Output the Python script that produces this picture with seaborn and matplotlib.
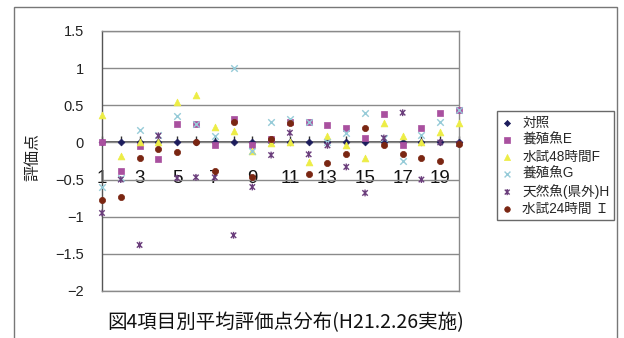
import matplotlib
matplotlib.use("Agg")
import matplotlib.pyplot as plt
from matplotlib.path import Path
from matplotlib.patches import Rectangle
import seaborn as sns
import pandas as pd

# ---- data -------------------------------------------------------------
categories = list(range(1, 21))
x_tick_labels = ["1", "3", "5", "7", "9", "11", "13", "15", "17", "19"]
y_ticks = [-2, -1.5, -1, -0.5, 0, 0.5, 1, 1.5]
y_tick_labels = ["\u22122", "\u22121.5", "\u22121", "\u22120.5", "0", "0.5", "1", "1.5"]

control = [0.0] * 20
farmed_e = [0.0, -0.39, -0.05, -0.22, 0.25, 0.25, -0.04, 0.32, -0.04, 0.05,
            0.28, 0.27, 0.23, 0.19, 0.06, 0.38, -0.03, 0.20, 0.39, 0.43]
test48_f = [0.37, -0.18, 0.00, 0.01, 0.55, 0.64, 0.21, 0.16, -0.11, -0.01,
            0.00, -0.26, 0.09, -0.03, -0.21, 0.26, 0.09, 0.00, 0.14, 0.26]
farmed_g = [-0.60, -0.48, 0.17, 0.10, 0.35, 0.25, 0.09, 1.00, -0.12, 0.28,
            0.32, 0.27, 0.01, 0.13, 0.40, 0.06, -0.25, 0.10, 0.28, 0.43]
wild_h = [-0.95, -0.50, -1.38, 0.09, -0.48, -0.47, -0.47, -1.25, -0.60, -0.17,
          0.13, -0.16, -0.04, -0.33, -0.68, 0.06, 0.40, -0.50, 0.00, -0.02]
test24_i = [-0.77, -0.74, -0.21, -0.09, -0.13, 0.00, -0.38, 0.27, -0.46, 0.05,
            0.26, -0.42, -0.28, -0.16, 0.19, -0.03, -0.15, -0.21, -0.25, -0.02]

series_names = ["対照", "養殖魚E", "水試48時間F", "養殖魚G", "天然魚(県外)H", "水試24時間 Ｉ"]
series_values = [control, farmed_e, test48_f, farmed_g, wild_h, test24_i]

# ---- styling ----------------------------------------------------------
sns.set_theme(style="white")
plt.rcParams["font.family"] = ["Liberation Sans", "Noto Sans CJK JP", "DejaVu Sans"]
plt.rcParams["axes.unicode_minus"] = True

# asterisk marker: an x with a vertical bar through it
asterisk = Path(
    [(-1, -1), (1, 1), (-1, 1), (1, -1), (0, -1.25), (0, 1.25)],
    [Path.MOVETO, Path.LINETO, Path.MOVETO, Path.LINETO, Path.MOVETO, Path.LINETO],
)

styles = [
    dict(marker="D", color="#1c1c5c", s=12, kind="filled"),
    dict(marker="s", color="#a9509f", s=18, kind="filled"),
    dict(marker="^", color="#eded45", s=24, kind="filled"),
    dict(marker="x", color="#96cbd8", s=22, kind="line"),
    dict(marker=asterisk, color="#6b3e7c", s=24, kind="path"),
    dict(marker="o", color="#7a2612", s=20, kind="filled"),
]

fig = plt.figure(figsize=(6.24, 3.38), dpi=100)
ax = fig.add_axes([102 / 624, 1 - 291 / 338, (459 - 102) / 624, (291 - 31) / 338])

for name, vals, st in zip(series_names, series_values, styles):
    df = pd.DataFrame({"category": categories, "score": vals})
    common = dict(data=df, x="category", y="score", ax=ax, marker=st["marker"],
                  s=st["s"], label=name, zorder=3, clip_on=False)
    if st["kind"] == "filled":
        sns.scatterplot(color=st["color"], edgecolor=st["color"], linewidth=0.5, **common)
    elif st["kind"] == "line":
        sns.scatterplot(color=st["color"], linewidth=1.0, **common)
    else:
        sns.scatterplot(facecolors="none", edgecolor=st["color"], linewidth=1.0, **common)

ax.set_xlim(1, 20)
ax.set_ylim(-2, 1.5)
ax.set_yticks(y_ticks, labels=y_tick_labels)
ax.tick_params(axis="y", labelsize=10.5, colors="#222222", length=0, pad=13)
ax.set_xticks([])
ax.set_xlabel("")
ax.set_ylabel("")

# horizontal gridlines
ax.yaxis.grid(True, color="#8a8a8a", linewidth=1.0)
ax.set_axisbelow(True)
for side, sp in ax.spines.items():
    sp.set_visible(True)
    sp.set_color("#8a8a8a")
    sp.set_linewidth(1.0)
ax.spines["left"].set_color("#555555")

# category axis crossing at zero
sec = ax.secondary_xaxis(0, transform=ax.transData)
sec.set_xticks(categories[::2], labels=x_tick_labels)
sec.set_xticks(categories, minor=True)
sec.tick_params(axis="x", which="both", direction="in", length=4, width=1,
                color="#333333", labelsize=13.5, pad=20, labelcolor="#111111")
sec.spines["bottom"].set_color("#444444")
sec.spines["bottom"].set_linewidth(1.2)

# axis title
fig.text(33 / 624, 1 - 157 / 338, "評価点", rotation=90, ha="center", va="center",
         fontsize=11.5, family=["Noto Sans CJK JP"], color="#222222")

# legend
leg = ax.legend(loc="upper left", bbox_to_anchor=(497 / 624, 1 - 111 / 338),
                bbox_transform=fig.transFigure, frameon=True, fancybox=False,
                prop={"family": ["Liberation Sans", "Noto Sans CJK JP"], "size": 9.8},
                handlelength=0.8, handletextpad=0.7, borderpad=0.35,
                labelspacing=0.22, borderaxespad=0, markerscale=0.9)
leg.get_frame().set_edgecolor("#444444")
leg.get_frame().set_linewidth(1.0)

# caption
fig.text(286 / 624, 1 - 323 / 338, "図4項目別平均評価点分布(H21.2.26実施)",
         ha="center", va="center", fontsize=14,
         family=["Noto Sans CJK JP"], color="#111111")

# outer chart border
fig.patches.append(Rectangle((14 / 624, -0.05), (617 - 14) / 624, 0.05 + (338 - 7) / 338,
                             transform=fig.transFigure, fill=False,
                             edgecolor="#777777", linewidth=1.0))

fig.savefig("out.png", dpi=100)
